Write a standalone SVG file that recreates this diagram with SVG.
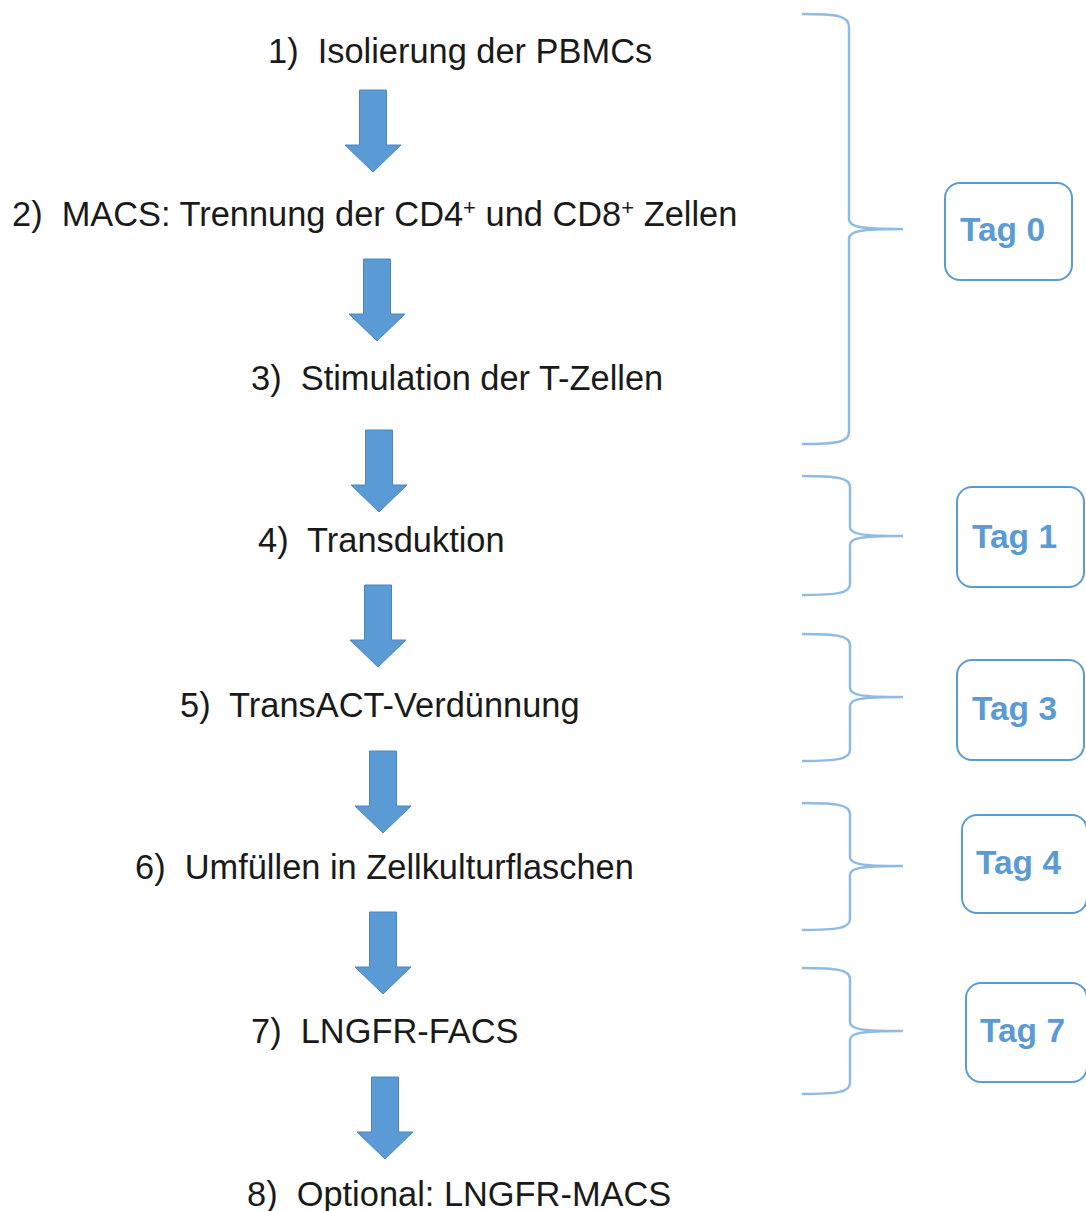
<svg xmlns="http://www.w3.org/2000/svg" width="1086" height="1211" viewBox="0 0 1086 1211" xml:space="preserve">
<style>
.step{font-family:Arial,"Liberation Sans",Helvetica,sans-serif;font-size:34.4px;fill:#1a1a1a;white-space:pre}
.tag{font-family:Arial,"Liberation Sans",Helvetica,sans-serif;font-size:33.5px;font-weight:bold;fill:#5b9bd5}
.box{fill:#fff;stroke:#5b9bd5;stroke-width:2}
.brace{fill:none;stroke:#8fbbe3;stroke-width:2.5}
.arrow{fill:#5b9bd5;stroke:#4a86c0;stroke-width:1}
</style>
<defs>
<path id="arr" d="M-13.5,0 H13.5 V55 H28 L0,82 L-28,55 H-13.5 Z"/>
</defs>
<rect width="1086" height="1211" fill="#fff"/>
<g id="connectors">
<use href="#arr" class="arrow" x="373" y="90"/>
<use href="#arr" class="arrow" x="377" y="259"/>
<use href="#arr" class="arrow" x="379" y="430"/>
<use href="#arr" class="arrow" x="378" y="585"/>
<use href="#arr" class="arrow" x="383" y="751"/>
<use href="#arr" class="arrow" x="383" y="912"/>
<use href="#arr" class="arrow" x="385" y="1077"/>
</g>
<g id="step1"><text class="step" x="268" y="63">1)  Isolierung der PBMCs</text></g>
<g id="step2"><text class="step" x="12" y="226">2)  MACS: Trennung der CD4<tspan font-size="22" dy="-11">+</tspan><tspan dy="11"> und CD8</tspan><tspan font-size="22" dy="-11">+</tspan><tspan dy="11"> Zellen</tspan></text></g>
<g id="step3"><text class="step" x="251" y="390">3)  Stimulation der T-Zellen</text></g>
<g id="step4"><text class="step" x="258" y="552">4)  Transduktion</text></g>
<g id="step5"><text class="step" x="180" y="717">5)  TransACT-Verdünnung</text></g>
<g id="step6"><text class="step" x="135" y="879">6)  Umfüllen in Zellkulturflaschen</text></g>
<g id="step7"><text class="step" x="251" y="1043">7)  LNGFR-FACS</text></g>
<g id="step8"><text class="step" x="247" y="1206">8)  Optional: LNGFR-MACS</text></g>
<g id="brace0"><path class="brace" d="M802,14 C838,14 849,16 849,27 L849,219 C849,227 860,229 903,229 C860,229 849,231 849,239 L849,432 C849,442 838,444 802,444"/></g>
<g id="brace1"><path class="brace" d="M802,476 C838,476 850,478 850,487 L850,527 C850,534 860,536 903,536 C860,536 850,538 850,545 L850,584 C850,593 838,595 802,595"/></g>
<g id="brace3"><path class="brace" d="M802,634 C838,634 850,636 850,645 L850,688 C850,695 860,697 903,697 C860,697 850,699 850,706 L850,750 C850,759 838,761 802,761"/></g>
<g id="brace4"><path class="brace" d="M802,803 C838,803 850,805 850,814 L850,857 C850,864 860,866 903,866 C860,866 850,868 850,875 L850,919 C850,928 838,930 802,930"/></g>
<g id="brace7"><path class="brace" d="M802,968 C838,968 850,970 850,979 L850,1022 C850,1029 860,1031 903,1031 C860,1031 850,1033 850,1040 L850,1083 C850,1092 838,1094 802,1094"/></g>
<g id="tag0"><rect class="box" x="945" y="183" width="127" height="97" rx="15"/><text class="tag" x="960" y="241">Tag 0</text></g>
<g id="tag1"><rect class="box" x="957" y="487" width="127" height="100" rx="15"/><text class="tag" x="972" y="548">Tag 1</text></g>
<g id="tag3"><rect class="box" x="957" y="660" width="127" height="100" rx="15"/><text class="tag" x="972" y="720">Tag 3</text></g>
<g id="tag4"><rect class="box" x="962" y="815" width="125" height="98" rx="15"/><text class="tag" x="976" y="874">Tag 4</text></g>
<g id="tag7"><rect class="box" x="966" y="983" width="121" height="99" rx="15"/><text class="tag" x="980" y="1042">Tag 7</text></g>
</svg>
